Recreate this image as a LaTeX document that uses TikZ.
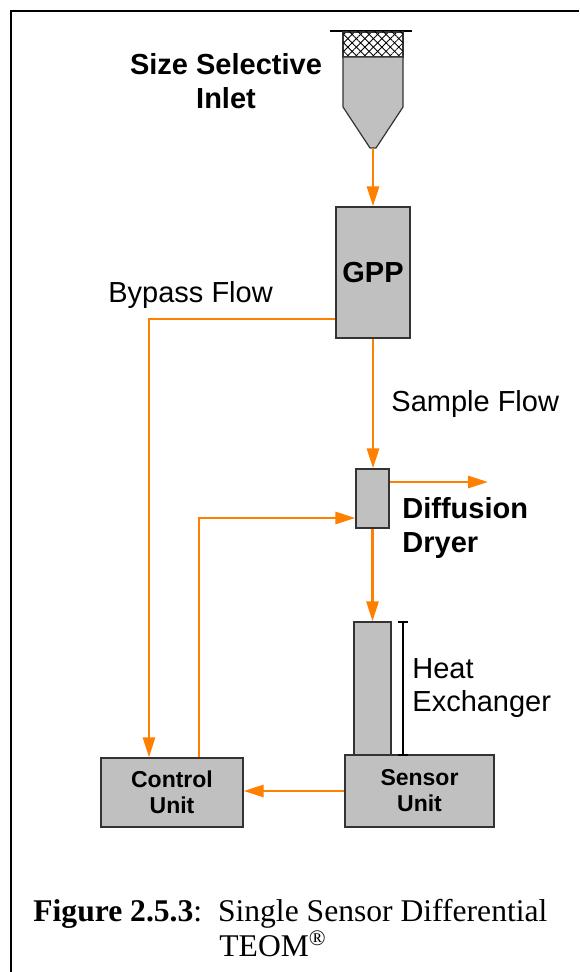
\documentclass[tikz,border=0pt]{standalone}
\usepackage{fontspec}
\setmainfont{Liberation Sans}
\newfontfamily\captionserif{Liberation Serif}
\usetikzlibrary{arrows.meta,patterns.meta}
\definecolor{floworange}{RGB}{255,128,0}
\definecolor{boxgray}{RGB}{192,192,192}

\begin{document}
\begin{tikzpicture}[x=0.5pt, y=-0.5pt,
    unitbox/.style={draw=black!80, fill=boxgray, line width=0.6pt, inner sep=0pt, align=center},
    flow/.style={draw=floworange, line width=1.4pt, -{Triangle[length=10pt,width=6pt]}},
    flowtext/.style={font=\fontsize{14.5}{16.5}\selectfont, align=left, inner sep=0pt},
    boldtext/.style={font=\fontsize{14.5}{17}\selectfont\bfseries, align=left, inner sep=0pt},
    unittext/.style={font=\fontsize{11.5}{13}\selectfont\bfseries}]
    \useasboundingbox (0,0) rectangle (579,972);
    \draw[line width=1pt] (11,972) -- (11,11) -- (579,11);

    % size selective inlet
    \draw[line width=1.3pt] (330,31) -- (412,31);
    \draw[draw=black!80, line width=0.6pt, pattern={Lines[angle=45,distance=3pt,line width=0.4pt]}] (343,32) rectangle (403,57);
    \path[pattern={Lines[angle=-45,distance=3pt,line width=0.4pt]}] (343,32) rectangle (403,57);
    \draw[unitbox] (343,57) -- (403,57) -- (403,107) -- (376,148) -- (370,148) -- (343,107) -- cycle;
    \coordinate (inlet) at (373,148);
    \node[boldtext, align=center] (inletlabel) at (226,81) {Size Selective\\Inlet};

    % units
    \node[unitbox, minimum width=37pt, minimum height=65.5pt, font=\fontsize{14.5}{17}\selectfont\bfseries] (gpp) at (373,272.5) {GPP};
    \node[unitbox, minimum width=16.5pt, minimum height=29.5pt] (dryer) at (372.5,498.5) {};
    \node[unitbox, minimum width=18.5pt, minimum height=66.5pt] (hx) at (372.5,688.5) {};
    \node[unitbox, unittext, minimum width=74.5pt, minimum height=36pt] (sensor) at (419.5,791) {Sensor\\Unit};
    \node[unitbox, unittext, minimum width=71pt, minimum height=34.5pt] (control) at (172,792.5) {Control\\Unit};

    % labels
    \node[flowtext, anchor=west] (bypasslabel) at (108,295) {Bypass Flow};
    \node[flowtext, anchor=west] (samplelabel) at (391,404) {Sample Flow};
    \node[boldtext, anchor=west] (dryerlabel) at (402,528) {Diffusion\\Dryer};
    \node[flowtext, anchor=west] (hxlabel) at (412,688.5) {Heat\\Exchanger};

    % flows
    \draw[flow] (inlet) -- (gpp.north);
    \draw[flow] (gpp.south) -- (gpp.south |- dryer.north);
    \draw[flow] (dryer.south) -- (hx.north);
    \coordinate (exhaust) at (488,482);
    \draw[flow] (dryer.east |- exhaust) -- (exhaust);
    \coordinate (bypass) at (149,319);
    \draw[flow] (gpp.west |- bypass) -- (bypass) -- (bypass |- control.north);
    \coordinate (return) at (199,518);
    \draw[flow] (return |- control.north) -- (return) -- (return -| dryer.west);
    \draw[flow] (sensor.west) -- (sensor.west -| control.east);
    \draw[line width=1pt, {Bar[width=5pt]}-{Bar[width=5pt]}] ([xshift=5.5pt]hx.north east) -- ([xshift=5.5pt]hx.south east);

    % caption
    \node[anchor=base west, inner sep=0pt, font=\captionserif\fontsize{15.8}{19}\selectfont] (caption) at (33,921) {\textbf{Figure 2.5.3}:\ \ Single Sensor Differential};
    \node[anchor=base west, inner sep=0pt, font=\captionserif\fontsize{15.8}{19}\selectfont] (teom) at (219,956) {TEOM\textsuperscript{\textregistered}};
\end{tikzpicture}
\end{document}
